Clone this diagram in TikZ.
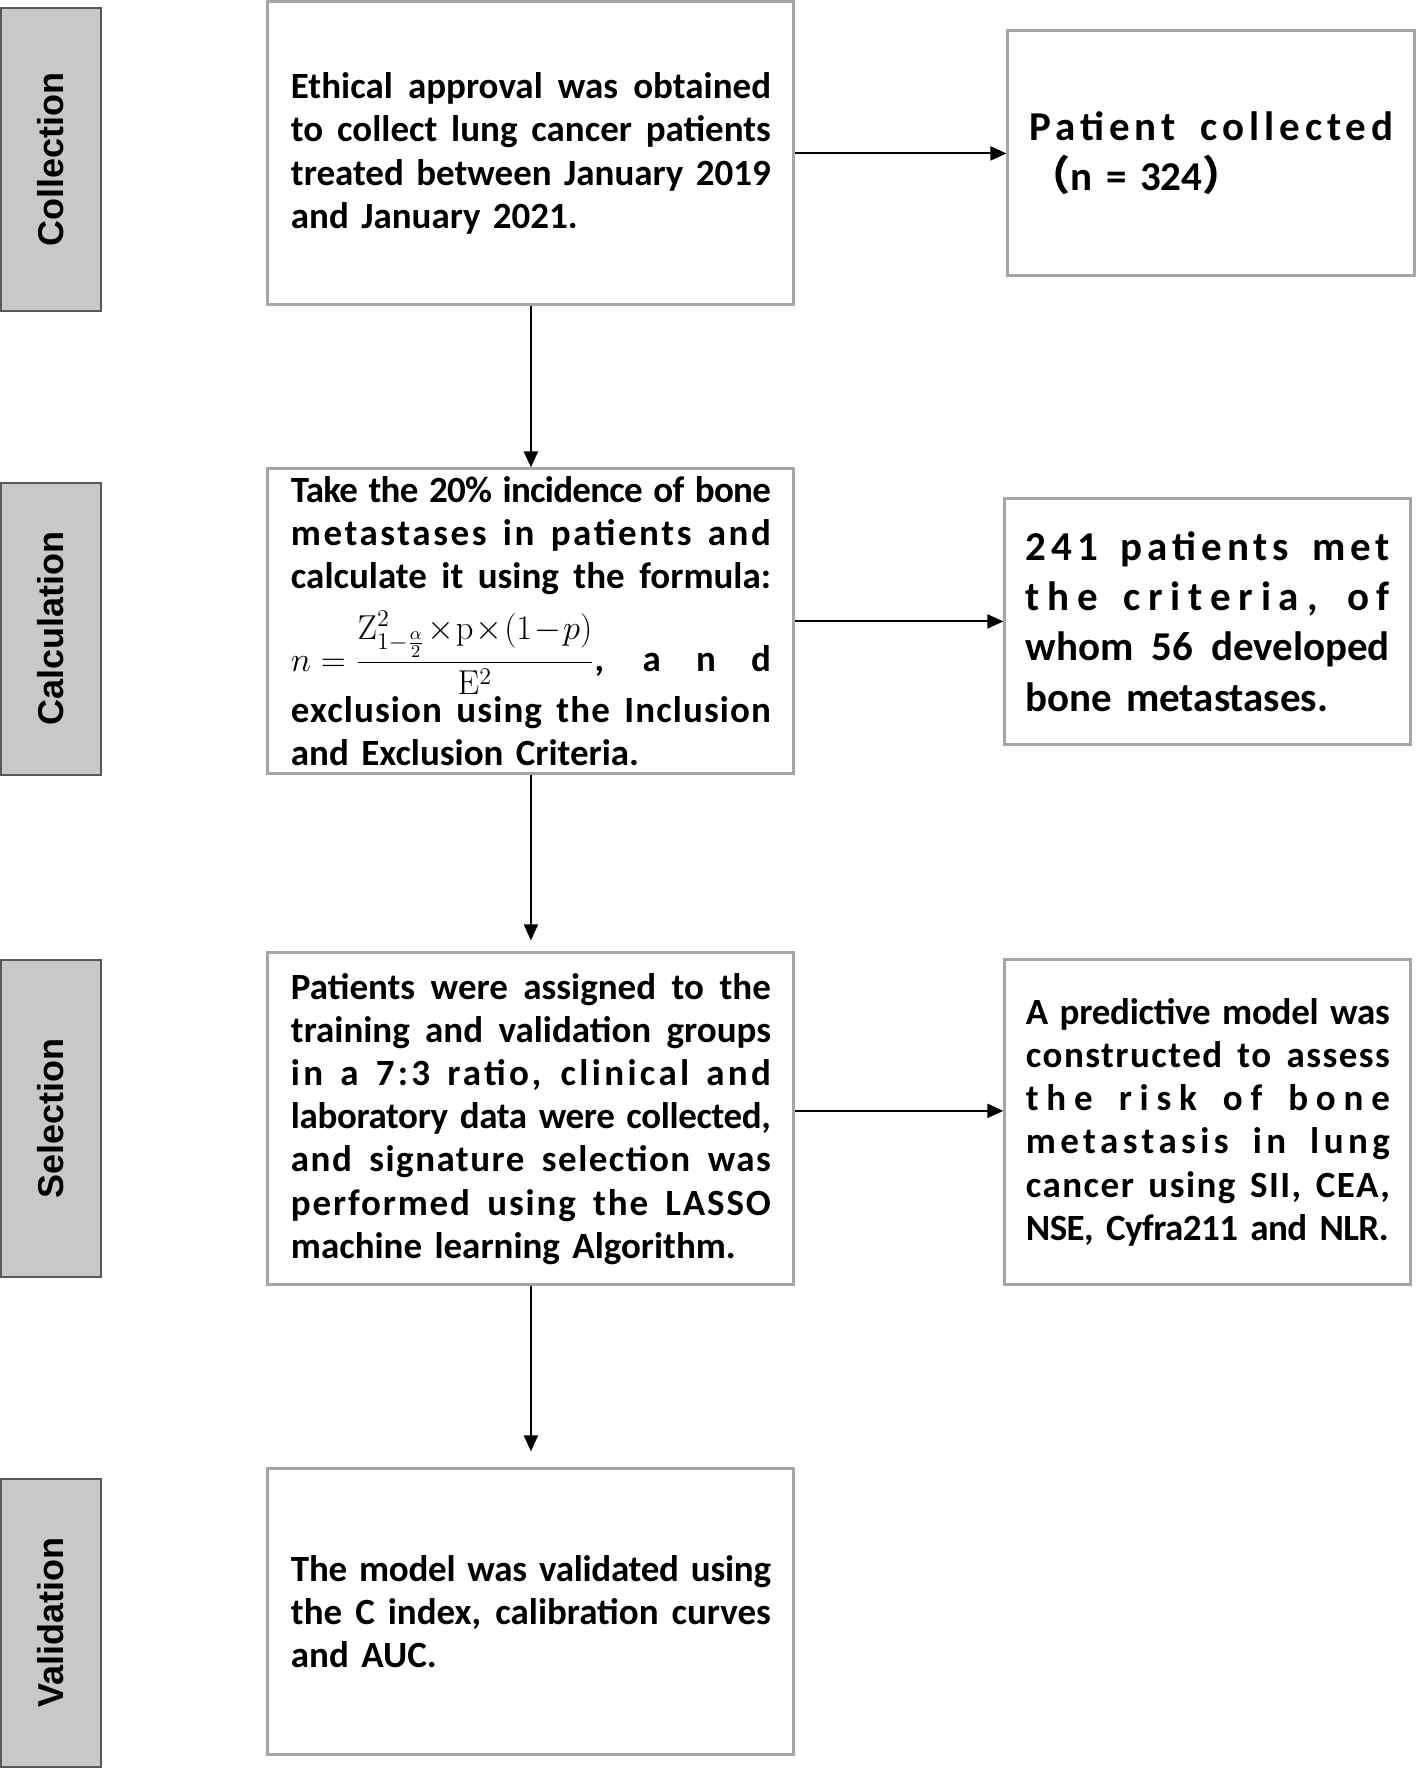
\documentclass[tikz,border=0pt]{standalone}
\usepackage[no-math]{fontspec}
\usepackage{amsmath}
\usepackage{graphicx}
\usepackage{tikz}
\usetikzlibrary{arrows.meta}

\setmainfont{Carlito}
\newfontfamily\stagefont{Liberation Sans}
\newfontfamily\cjk{Noto Sans CJK SC}

\definecolor{boxgray}{HTML}{A6A6A6}
\definecolor{stagefill}{HTML}{C8C8C8}
\definecolor{stageline}{HTML}{595959}

% one justified line, optionally letter spaced
\newcommand{\fullline}[2][0]{{\addfontfeature{LetterSpace=#1}\makebox[\linewidth][s]{\spaceskip=.226em plus 1fil minus .07em\relax#2}}\\}

\tikzset{
  mainbox/.style={draw=boxgray, line width=1.5pt, minimum width=9.244cm, text width=240pt, align=left,
    font=\bfseries\fontsize{18.5}{21.6}\selectfont},
  sidebox/.style={draw=boxgray, line width=1.5pt, minimum width=7.135cm, text width=182pt, align=left},
  stagebox/.style={draw=stageline, fill=stagefill, line width=1pt, minimum width=1.757cm,
    font=\stagefont\bfseries\fontsize{18}{22}\selectfont},
  link/.style={-{Triangle[length=8pt,width=7pt]}, line width=1pt}
}

\begin{document}
\begin{tikzpicture}
      \useasboundingbox (0,0) rectangle (24.90,-31.09);

      % main column
      \node [mainbox, minimum height=5.325cm] (m1) at (9.331,-2.697)
        {\fullline{Ethical approval was obtained}\fullline{to collect lung cancer patients}\fullline{treated between January 2019}and January 2021.};
      \node [mainbox, minimum height=5.36cm, below of=m1, yshift=-7.224cm] (m2)
        {\fullline[-2]{Take the 20\% incidence of bone}\fullline[7]{metastases in patients and}\fullline{calculate it using the formula:}\makebox[\linewidth][s]{\rule{0pt}{37pt}$\medmuskip=1mu\displaystyle n=\frac{\mathrm{Z}^{2}_{1-\frac{\alpha}{2}}\times\mathrm{p}\times(1-p)}{\mathrm{E}^{2}}$,\hfill a\hspace{0.95em}n\hspace{0.95em}d}\\\fullline[3]{exclusion using the Inclusion}and Exclusion Criteria.};
      \node [mainbox, minimum height=5.834cm, below of=m2, yshift=-7.743cm] (m3)
        {\fullline{Patients were assigned to the}\fullline{training and validation groups}\fullline[9]{in a 7:3 ratio, clinical and}\fullline[-1]{laboratory data were collected,}\fullline[4]{and signature selection was}\fullline[5]{performed using the LASSO}machine learning Algorithm.};
      \node [mainbox, minimum height=5.026cm, below of=m3, yshift=-7.664cm] (m4)
        {\fullline[-0.7]{The model was validated using}\fullline{the C index, calibration curves}and AUC.};

      % results on the right
      \node [sidebox, minimum width=7.152cm, minimum height=4.305cm, right of=m1, xshift=10.959cm,
        font=\bfseries\fontsize{20.5}{25.2}\selectfont] (r1)
        {\fullline[12]{Patient collected}{\cjk （}n = 324{\cjk ）}};
      \node [sidebox, minimum height=4.323cm, right of=m2, xshift=10.897cm,
        font=\bfseries\fontsize{20.5}{25.2}\selectfont] (r2)
        {\fullline[12]{241 patients met}\fullline[19]{the criteria, of}\fullline{whom 56 developed}bone metastases.};
      \node [sidebox, minimum height=5.711cm, right of=m3, xshift=10.897cm, yshift=-0.06cm,
        font=\bfseries\fontsize{18.5}{21.6}\selectfont] (r3)
        {\fullline[-0.7]{A predictive model was}\fullline[4]{constructed to assess}\fullline[21]{the risk of bone}\fullline[12]{metastasis in lung}\fullline[4]{cancer using SII, CEA,}\mbox{\addfontfeature{LetterSpace=-1.5}NSE, Cyfra211 and NLR.}};

      % stages on the left
      \node [stagebox, minimum height=5.325cm, left of=m1, xshift=-7.435cm, yshift=-0.105cm] (s1) {\rotatebox{90}{Collection}};
      \node [stagebox, minimum height=5.131cm, left of=m2, xshift=-7.435cm, yshift=-0.132cm] (s2) {\rotatebox{90}{Calculation}};
      \node [stagebox, minimum height=5.571cm, left of=m3, xshift=-7.435cm] (s3) {\rotatebox{90}{Selection}};
      \node [stagebox, minimum height=5.061cm, left of=m4, xshift=-7.435cm, yshift=-0.193cm] (s4) {\rotatebox{90}{Validation}};

      \draw [link] (m1) -- (m2);
      \draw [link] (m2.south) -- ([yshift=5.5pt]m3.north);
      \draw [link] (m3.south) -- ([yshift=8pt]m4.north);
      \draw [link] (m1) -- (r1);
      \draw [link] (m2) -- (r2);
      \draw [link] ([yshift=4pt]m3.east) -- ([yshift=4pt]m3.east -| r3.west);
    \end{tikzpicture}
\end{document}
